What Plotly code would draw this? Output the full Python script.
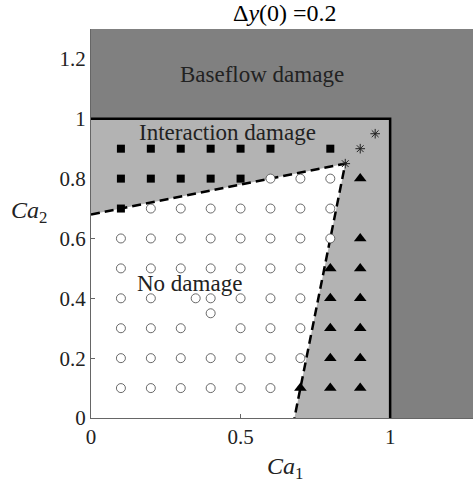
import plotly.graph_objects as go

# ---- data ----
circ_x = [0.6, 0.7, 0.8,
          0.2, 0.3, 0.4, 0.5, 0.6, 0.7, 0.8,
          0.1, 0.2, 0.3, 0.4, 0.5, 0.6, 0.7, 0.8,
          0.1, 0.2, 0.3, 0.4, 0.5, 0.6, 0.7,
          0.1, 0.2, 0.35, 0.4, 0.5, 0.6, 0.7,
          0.4,
          0.1, 0.2, 0.3, 0.5, 0.6, 0.7,
          0.1, 0.2, 0.3, 0.4, 0.5, 0.6, 0.7,
          0.1, 0.2, 0.3, 0.4, 0.5, 0.6]
circ_y = [0.8, 0.8, 0.8,
          0.7, 0.7, 0.7, 0.7, 0.7, 0.7, 0.7,
          0.6, 0.6, 0.6, 0.6, 0.6, 0.6, 0.6, 0.6,
          0.5, 0.5, 0.5, 0.5, 0.5, 0.5, 0.5,
          0.4, 0.4, 0.4, 0.4, 0.4, 0.4, 0.4,
          0.35,
          0.3, 0.3, 0.3, 0.3, 0.3, 0.3,
          0.2, 0.2, 0.2, 0.2, 0.2, 0.2, 0.2,
          0.1, 0.1, 0.1, 0.1, 0.1, 0.1]

sq_x = [0.1, 0.2, 0.3, 0.4, 0.5, 0.6, 0.8,
        0.1, 0.2, 0.3, 0.4, 0.5,
        0.1]
sq_y = [0.9, 0.9, 0.9, 0.9, 0.9, 0.9, 0.9,
        0.8, 0.8, 0.8, 0.8, 0.8,
        0.7]

tri_x = [0.9, 0.9, 0.8, 0.9, 0.8, 0.9, 0.8, 0.9, 0.8, 0.9, 0.7, 0.8, 0.9]
tri_y = [0.8, 0.6, 0.5, 0.5, 0.4, 0.4, 0.3, 0.3, 0.2, 0.2, 0.1, 0.1, 0.1]

star_x = [0.85, 0.9, 0.95]
star_y = [0.85, 0.9, 0.95]

# region boundaries
dash_x = [0.0, 0.85, 0.68]
dash_y = [0.68, 0.85, 0.0]
box_x = [0.0, 1.0, 1.0]
box_y = [1.0, 1.0, 0.0]
xmax, ymax = 1.3, 1.3
xview = 1.277

FONT = "Liberation Serif"

fig = go.Figure()

# dark gray region (outside unit square)
fig.add_trace(go.Scatter(
    x=[0, box_x[1], box_x[2], xmax, xmax, 0, 0],
    y=[box_y[0], box_y[1], box_y[2], 0, ymax, ymax, box_y[0]],
    fill="toself", fillcolor="#808080", mode="none", hoverinfo="skip"))
# light gray region (unit square minus no-damage polygon)
fig.add_trace(go.Scatter(
    x=[dash_x[0], 0, 1, 1, dash_x[2], dash_x[1], dash_x[0]],
    y=[dash_y[0], 1, 1, 0, dash_y[2], dash_y[1], dash_y[0]],
    fill="toself", fillcolor="#b3b3b3", mode="none", hoverinfo="skip"))

# boundaries
fig.add_trace(go.Scatter(x=box_x, y=box_y, mode="lines",
                         line=dict(color="black", width=2.5)))
fig.add_trace(go.Scatter(x=dash_x, y=dash_y, mode="lines",
                         line=dict(color="black", width=2.5, dash="9px,5px")))

# markers
fig.add_trace(go.Scatter(x=circ_x, y=circ_y, mode="markers",
                         marker=dict(symbol="circle", size=9, color="white",
                                     line=dict(color="#444", width=0.8))))
fig.add_trace(go.Scatter(x=sq_x, y=sq_y, mode="markers",
                         marker=dict(symbol="square", size=8, color="black")))
fig.add_trace(go.Scatter(x=tri_x, y=tri_y, mode="markers",
                         marker=dict(symbol="triangle-up", size=11, color="black")))
fig.add_trace(go.Scatter(x=star_x, y=star_y, mode="markers",
                         marker=dict(symbol="asterisk-open", size=8, color="#222",
                                     line=dict(color="#222", width=1))))

ann_font = dict(family=FONT, size=23, color="#222")
fig.add_annotation(x=0.57, y=1.147, text="Baseflow damage", showarrow=False, font=ann_font)
fig.add_annotation(x=0.455, y=0.953, text="Interaction damage", showarrow=False, font=ann_font)
fig.add_annotation(x=0.33, y=0.45, text="No damage", showarrow=False, font=ann_font)

# title and axis titles
fig.add_annotation(x=xmax / 2, xref="x", y=1, yref="paper", yshift=16,
                   text="Δ<i>y</i>(0) =0.2", showarrow=False, yanchor="middle",
                   xanchor="center", font=dict(family=FONT, size=24, color="black"))
fig.add_annotation(x=xmax / 2, xref="x", y=0, yref="paper", yshift=-50,
                   text="<i>Ca</i><sub>1</sub>", showarrow=False, yanchor="middle",
                   xanchor="center", font=dict(family=FONT, size=24, color="#222"))
fig.add_annotation(x=0, xref="paper", xshift=-62, y=0.687, yref="y",
                   text="<i>Ca</i><sub>2</sub>", showarrow=False,
                   xanchor="center", yanchor="middle",
                   font=dict(family=FONT, size=24, color="#222"))

axis_common = dict(showgrid=False, zeroline=False, showline=True, linecolor="#666",
                   linewidth=1, ticks="inside", ticklen=4, tickcolor="#666",
                   automargin=False,
                   layer="below traces", tickfont=dict(family=FONT, size=21, color="#222"))
fig.update_xaxes(range=[0, xview], tickvals=[0, 0.5, 1], ticktext=["0", "0.5", "1"],
                 **axis_common)
fig.update_yaxes(range=[0, ymax], tickvals=[0, 0.2, 0.4, 0.6, 0.8, 1, 1.2],
                 ticktext=["0", "0.2", "0.4", "0.6", "0.8", "1", "1.2"], **axis_common)

fig.update_layout(width=473, height=487, margin=dict(l=91, r=0, t=29, b=69, autoexpand=False),
                  plot_bgcolor="white", paper_bgcolor="white", showlegend=False)

fig.write_html("out.html", config={"displayModeBar": False},
               post_script="document.body.style.margin='0';document.body.style.overflow='hidden';")
